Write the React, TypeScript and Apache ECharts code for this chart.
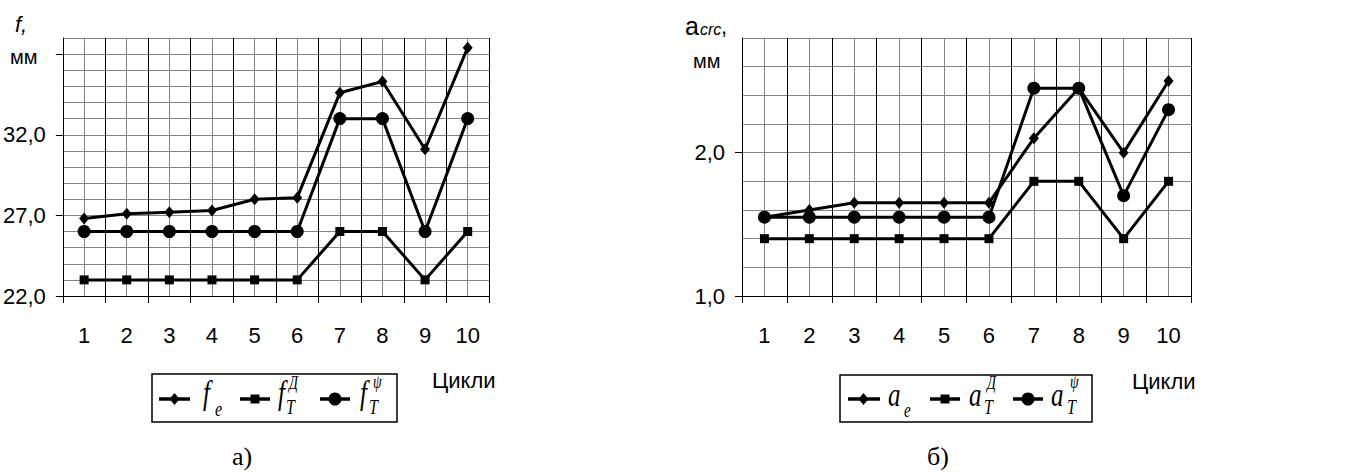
import React, { useEffect, useRef } from 'react';
import * as echarts from 'echarts';

// ---- data ----
const cycles = [1, 2, 3, 4, 5, 6, 7, 8, 9, 10];
const fE = [26.8, 27.1, 27.2, 27.3, 28.0, 28.1, 34.6, 35.3, 31.1, 37.4];
const fTD = [23.0, 23.0, 23.0, 23.0, 23.0, 23.0, 26.0, 26.0, 23.0, 26.0];
const fTPsi = [26.0, 26.0, 26.0, 26.0, 26.0, 26.0, 33.0, 33.0, 26.0, 33.0];
const aE = [1.55, 1.6, 1.65, 1.65, 1.65, 1.65, 2.1, 2.45, 2.0, 2.5];
const aTD = [1.4, 1.4, 1.4, 1.4, 1.4, 1.4, 1.8, 1.8, 1.4, 1.8];
const aTPsi = [1.55, 1.55, 1.55, 1.55, 1.55, 1.55, 2.45, 2.45, 1.7, 2.3];
const leftYTicks = [22, 27, 32, 37];
const leftYLabels = [22, 27, 32];
const rightYTicks = [1, 2];
const rightYLabels = [1, 2];
const xBoundaries = [0.5, 1.5, 2.5, 3.5, 4.5, 5.5, 6.5, 7.5, 8.5, 9.5, 10.5];
const xAxisTitle = 'Цикли';

const SANS = '"Liberation Sans", Arial, sans-serif';
const SERIF = '"Liberation Serif", "Times New Roman", serif';
const GRID_GRAY = '#858585';
const LABEL_SIZE = 22;

const fmt = (v: number) => v.toFixed(1).replace('.', ',');

// x axis that draws the grid lines (black at cell borders, grey at centres)
const xGridAxis = (gridIndex: number) => ({
  gridIndex,
  type: 'value',
  position: 'bottom',
  min: 0.5,
  max: 10.5,
  interval: 0.5,
  axisLine: { show: true, onZero: false, lineStyle: { color: '#000', width: 1 } },
  axisTick: { show: false },
  axisLabel: { show: false },
  splitLine: { show: true, lineStyle: { color: ['#000', GRID_GRAY], width: 1 } },
});
// x axis that only draws ticks and labels
const xLabelAxis = (gridIndex: number) => ({
  gridIndex,
  type: 'value',
  position: 'bottom',
  min: 0.5,
  max: 10.5,
  interval: 0.5,
  axisLine: { show: false, onZero: false },
  axisTick: { show: true, customValues: xBoundaries, length: 7, lineStyle: { color: '#000', width: 1 } },
  axisLabel: {
    show: true,
    customValues: cycles,
    formatter: (v: number) => String(v),
    margin: 28,
    fontSize: LABEL_SIZE,
    fontFamily: SANS,
    color: '#000',
  },
  splitLine: { show: false },
});

const yGridAxis = (gridIndex: number, min: number, max: number, interval: number) => ({
  gridIndex,
  type: 'value',
  position: 'left',
  min,
  max,
  interval,
  axisLine: { show: true, lineStyle: { color: '#000', width: 1 } },
  axisTick: { show: false },
  axisLabel: { show: false },
  splitLine: { show: true, lineStyle: { color: GRID_GRAY, width: 1 } },
});
const yLabelAxis = (gridIndex: number, min: number, max: number, interval: number, ticks: number[], labels: number[]) => ({
  gridIndex,
  type: 'value',
  position: 'left',
  min,
  max,
  interval,
  axisLine: { show: false },
  axisTick: { show: true, customValues: ticks, length: 7, lineStyle: { color: '#000', width: 1 } },
  axisLabel: {
    show: true,
    customValues: labels,
    formatter: (v: number) => fmt(v),
    margin: 17,
    fontSize: LABEL_SIZE,
    fontFamily: SANS,
    color: '#000',
  },
  splitLine: { show: false },
});

const lineSeries = (name: string, values: number[], axisIdx: number, symbol: string, size: any) => ({
  name,
  type: 'line',
  xAxisIndex: axisIdx,
  yAxisIndex: axisIdx,
  data: cycles.map((c, i) => [c, values[i]]),
  symbol,
  symbolSize: size,
  showAllSymbol: true,
  lineStyle: { color: '#000', width: 3 },
  itemStyle: { color: '#000', borderWidth: 0 },
  z: 5,
});

// text helper for graphic
const t = (x: number, y: number, text: string, size: number, family: string, italic = false, scaleY = 1, align = 'left') => ({
  type: 'text',
  x,
  y,
  scaleY,
  z: 100,
  style: {
    text,
    fontSize: size,
    fontFamily: family,
    fontStyle: italic ? 'italic' : 'normal',
    fill: '#000',
    align,
    verticalAlign: 'middle',
  },
});

const seg = (x1: number, x2: number, y: number) => ({
  type: 'line',
  z: 100,
  shape: { x1, y1: y, x2, y2: y },
  style: { stroke: '#000', lineWidth: 3.5 },
});
const diamond = (cx: number, cy: number) => ({
  type: 'polygon',
  z: 101,
  shape: { points: [[cx, cy - 6], [cx + 5, cy], [cx, cy + 6], [cx - 5, cy]] },
  style: { fill: '#000' },
});
const square = (cx: number, cy: number) => ({
  type: 'rect',
  z: 101,
  shape: { x: cx - 4.5, y: cy - 4.5, width: 9, height: 9 },
  style: { fill: '#000' },
});
const dot = (cx: number, cy: number) => ({
  type: 'circle',
  z: 101,
  shape: { cx, cy, r: 6.5 },
  style: { fill: '#000' },
});
const box = (x: number, y: number, w: number, h: number) => ({
  type: 'rect',
  z: 99,
  shape: { x, y, width: w, height: h },
  style: { fill: '#fff', stroke: '#000', lineWidth: 1.5 },
});

const LY = 399;
const SY = 1.35;

const graphic = [
  // left titles
  t(15, 24, 'f,', 22, SANS, true),
  t(10, 57, 'мм', 20, SANS),
  t(432, 380, xAxisTitle, 22, SANS),
  t(242, 456, 'а)', 26, SERIF, false, 1, 'center'),
  // left legend
  box(152, 374, 245, 48),
  seg(159, 190, LY), diamond(174.5, LY),
  t(203, 393, 'f', 25, SERIF, true, SY),
  t(215, 409, 'e', 16, SERIF, true, SY),
  seg(240, 270, LY), square(255, LY),
  t(278, 393, 'f', 25, SERIF, true, SY),
  t(289, 383, 'Д', 14, SERIF, true, SY),
  t(286, 407, 'T', 16, SERIF, true, SY),
  seg(320, 350, LY), dot(335, LY),
  t(360, 393, 'f', 25, SERIF, true, SY),
  t(373, 382, 'ψ', 14, SERIF, true, SY),
  t(369, 407, 'T', 16, SERIF, true, SY),

  // right titles
  t(685, 26, 'a', 25, SANS),
  t(700, 29, 'crc', 16, SANS, true),
  t(721, 26, ',', 22, SANS),
  t(693, 61, 'мм', 20, SANS),
  t(1132, 381, xAxisTitle, 22, SANS),
  t(938, 456, 'б)', 26, SERIF, false, 1, 'center'),
  // right legend
  box(840, 375, 252, 47),
  seg(848, 880, LY), diamond(863.5, LY),
  t(888, 395, 'a', 25, SERIF, true, SY),
  t(904, 410, 'e', 15, SERIF, true, SY),
  seg(930, 960, LY), square(945, LY),
  t(969, 395, 'a', 25, SERIF, true, SY),
  t(987, 383, 'Д', 14, SERIF, true, SY),
  t(984, 407, 'T', 16, SERIF, true, SY),
  seg(1013, 1043, LY), dot(1028, LY),
  t(1051, 395, 'a', 25, SERIF, true, SY),
  t(1070, 382, 'ψ', 14, SERIF, true, SY),
  t(1067, 407, 'T', 16, SERIF, true, SY),
];

const option = {
  animation: false,
  backgroundColor: '#fff',
  grid: [
    { left: 61, top: 38, width: 428, height: 258, containLabel: false },
    { left: 742, top: 38, width: 449, height: 258, containLabel: false },
  ],
  xAxis: [xGridAxis(0), xLabelAxis(0), xGridAxis(1), xLabelAxis(1)],
  yAxis: [
    yGridAxis(0, 22, 38, 1),
    yLabelAxis(0, 22, 38, 1, leftYTicks, leftYLabels),
    yGridAxis(1, 1, 2.8, 0.2),
    yLabelAxis(1, 1, 2.8, 0.2, rightYTicks, rightYLabels),
  ],
  series: [
    lineSeries('fTD', fTD, 0, 'rect', 9),
    lineSeries('fTPsi', fTPsi, 0, 'circle', 13),
    lineSeries('fE', fE, 0, 'diamond', [10, 12]),
    lineSeries('aTD', aTD, 2, 'rect', 9),
    lineSeries('aTPsi', aTPsi, 2, 'circle', 13),
    lineSeries('aE', aE, 2, 'diamond', [10, 12]),
  ],
  graphic,
};

export default function App() {
  const ref = useRef<HTMLDivElement>(null);
  useEffect(() => {
    if (!ref.current) return;
    const chart = echarts.init(ref.current, null, { renderer: 'svg' });
    chart.setOption(option as any);
    return () => chart.dispose();
  }, []);
  return (
    <div
      ref={ref}
      style={{ position: 'fixed', left: 0, top: 0, width: 1346, height: 474, background: '#fff' }}
    />
  );
}
